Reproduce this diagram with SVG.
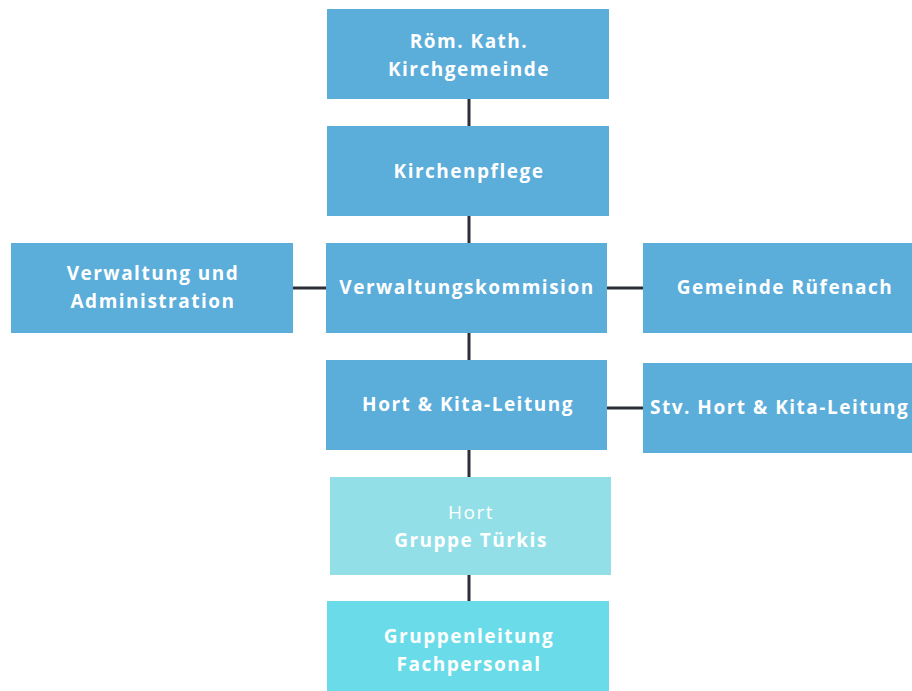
<svg xmlns="http://www.w3.org/2000/svg" width="912" height="691" viewBox="0 0 912 691">
<style>
.b{fill:#5badda}
.t{font-family:"Open Sans","Liberation Sans",sans-serif;font-weight:700;font-size:19px;fill:#ffffff;letter-spacing:1.5px;text-anchor:middle}
.r{font-weight:400}
.c{stroke:#2b2f3a;stroke-width:3;fill:none}
</style>
<rect width="912" height="691" fill="#ffffff"/>
<g id="connectors">
<path class="c" d="M469 99V126M469 216V243M469 333V360M469 450V477M469 575V601M293 288H326M607 288H643M607 408H643"/>
</g>
<g id="n1"><rect class="b" x="327" y="9" width="282" height="90"/><text class="t" x="469" y="48">Röm. Kath.</text><text class="t" x="469" y="76">Kirchgemeinde</text></g>
<g id="n2"><rect class="b" x="327" y="126" width="282" height="90"/><text class="t" x="469" y="178">Kirchenpflege</text></g>
<g id="n3"><rect class="b" x="11" y="243" width="282" height="90"/><text class="t" x="153" y="280">Verwaltung und</text><text class="t" x="153" y="308">Administration</text></g>
<g id="n4"><rect class="b" x="326" y="243" width="281" height="90"/><text class="t" x="467" y="294">Verwaltungskommision</text></g>
<g id="n5"><rect class="b" x="643" y="243" width="269" height="90"/><text class="t" x="785" y="294">Gemeinde Rüfenach</text></g>
<g id="n6"><rect class="b" x="326" y="360" width="281" height="90"/><text class="t" x="468" y="411">Hort &amp; Kita-Leitung</text></g>
<g id="n7"><rect class="b" x="643" y="363" width="269" height="90"/><text class="t" x="650" y="414" style="text-anchor:start">Stv. Hort &amp; Kita-Leitung</text></g>
<g id="n8"><rect x="330" y="477" width="281" height="98" fill="#93dfe8"/><text class="t r" x="471" y="519">Hort</text><text class="t" x="471" y="547">Gruppe Türkis</text></g>
<g id="n9"><rect x="327" y="601" width="282" height="90" fill="#6adce9"/><text class="t" x="469" y="643">Gruppenleitung</text><text class="t" x="469" y="671">Fachpersonal</text></g>
</svg>
